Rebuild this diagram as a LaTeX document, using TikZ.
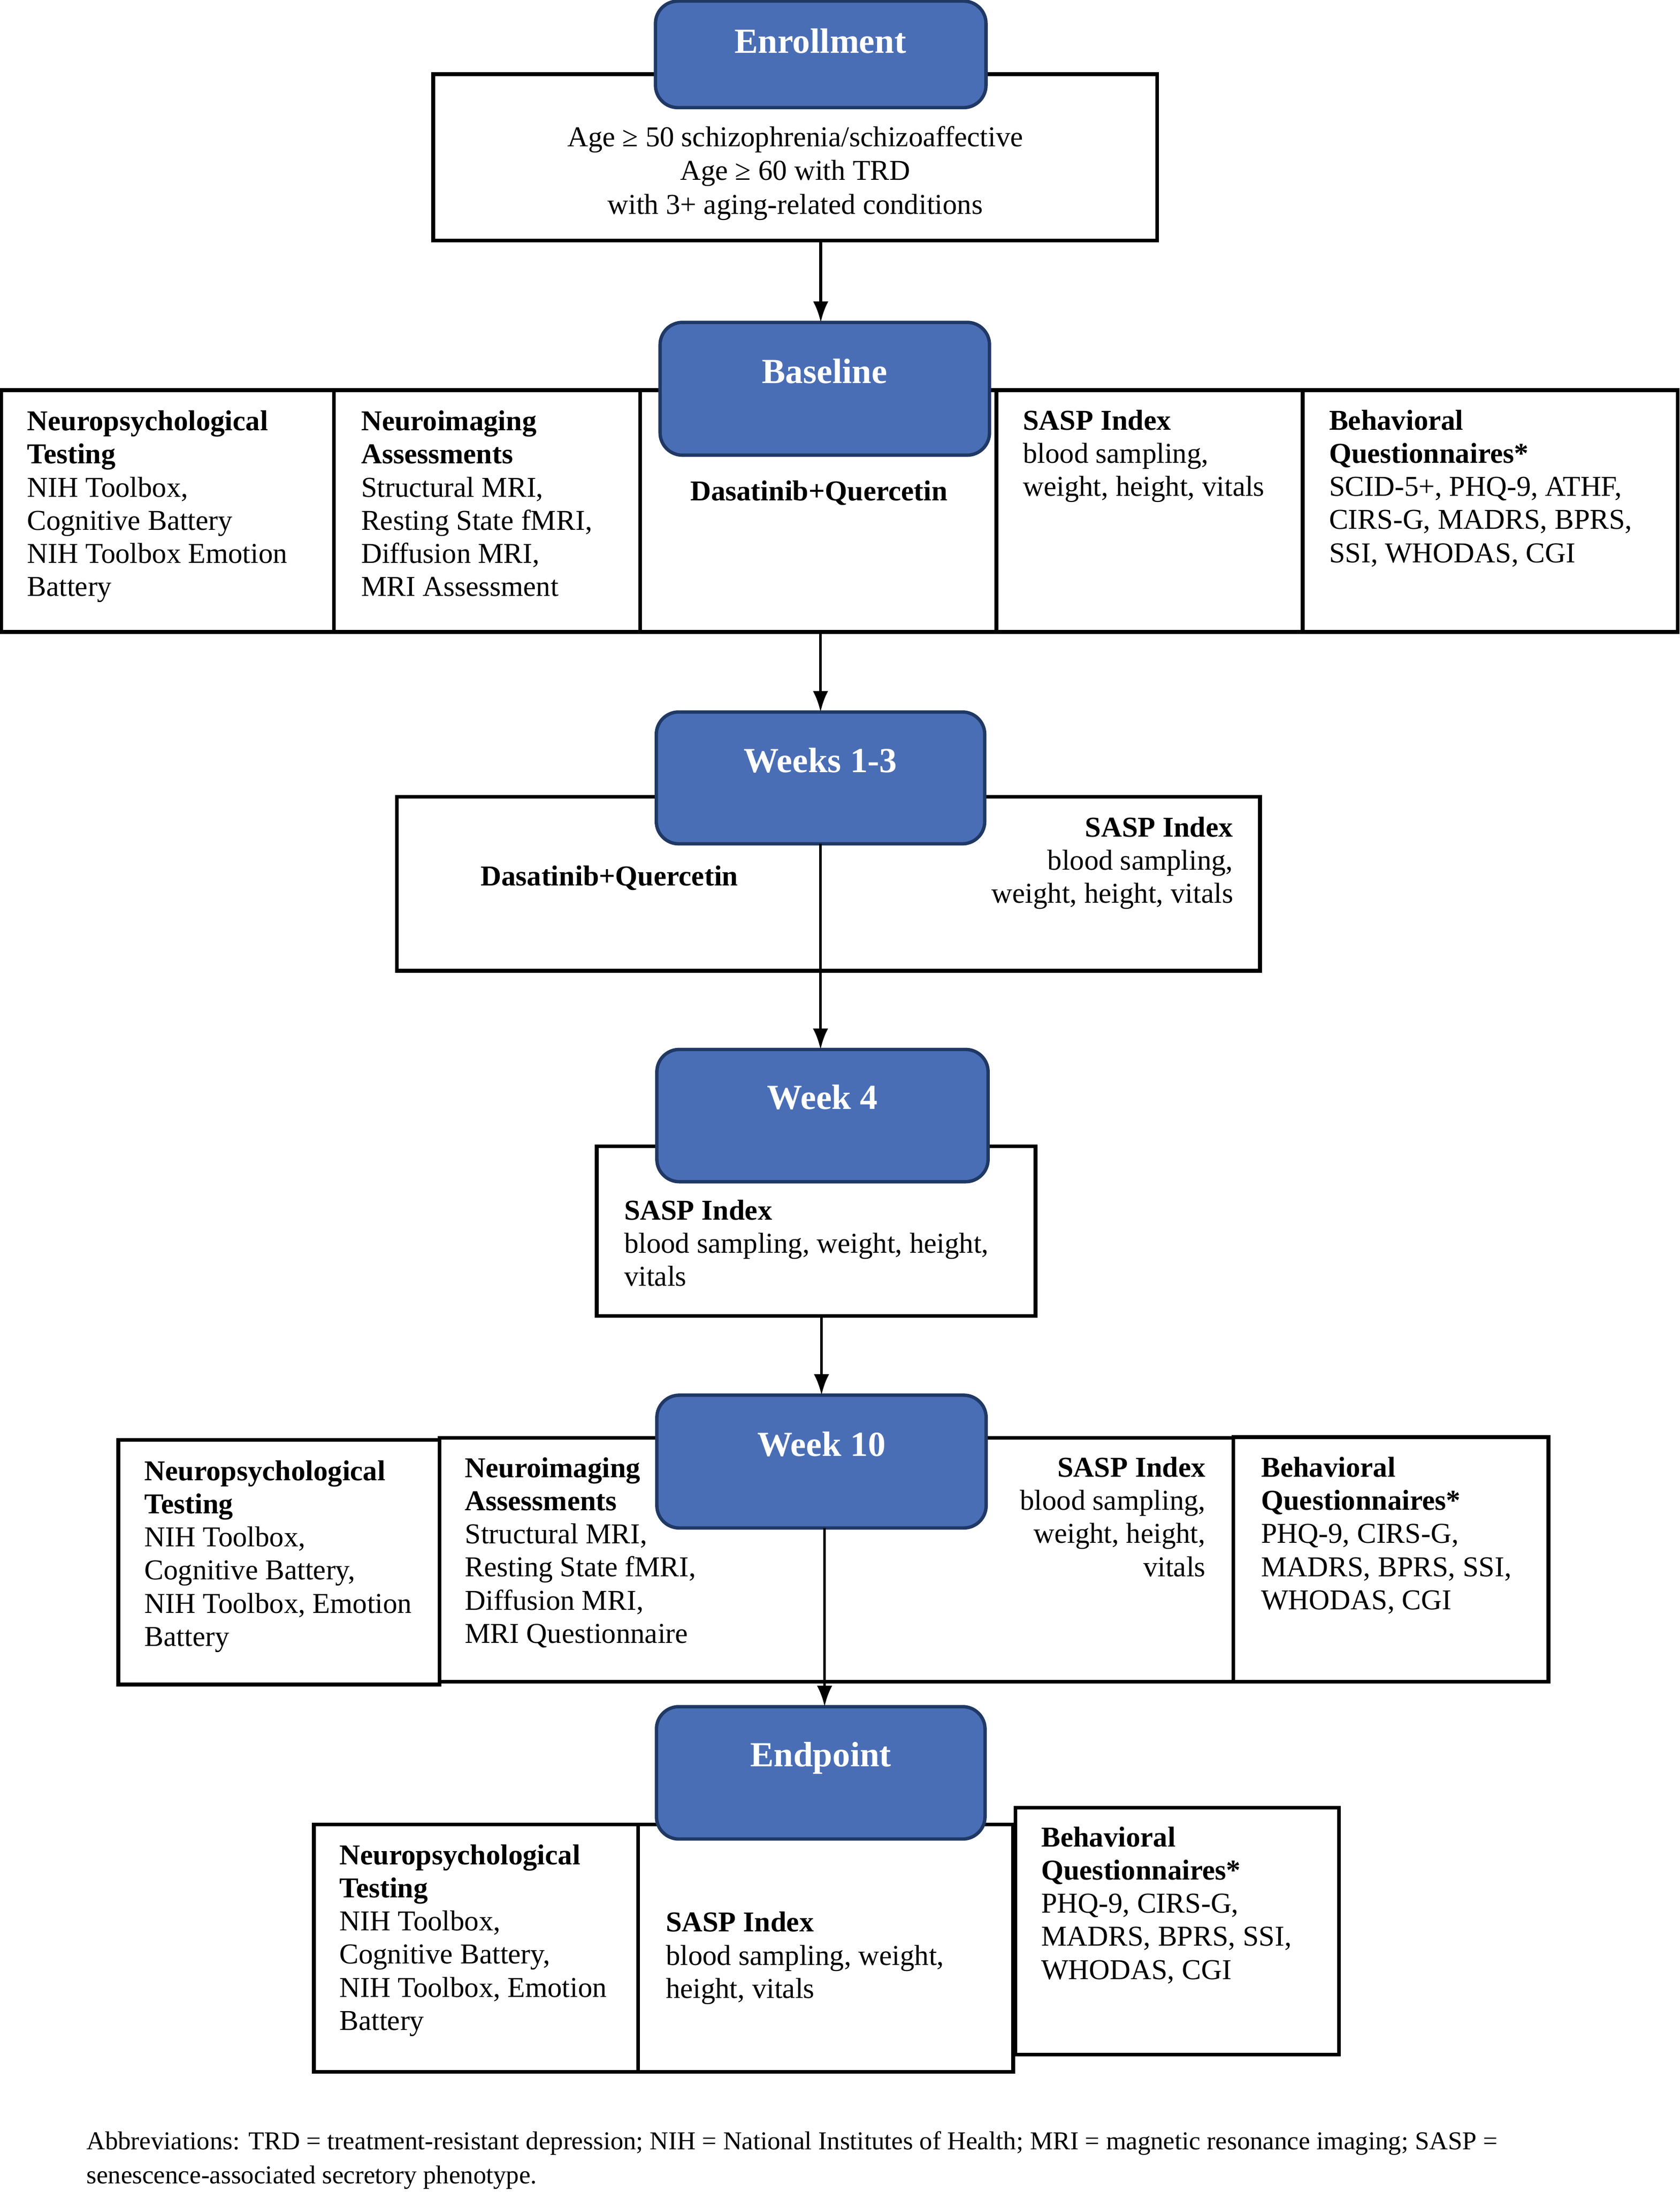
\documentclass[tikz,border=0pt]{standalone}
\usepackage{fontspec}
\setmainfont{Liberation Serif}
\usetikzlibrary{arrows.meta}
\definecolor{boxblue}{HTML}{4A6EB5}
\definecolor{boxnavy}{HTML}{1F3864}
\newcommand\Lft[1]{\vtop{\baselineskip=11.85pt\lineskiplimit=-20pt\halign{##\hfil\cr#1\crcr}}}
\newcommand\Rgt[1]{\vtop{\baselineskip=11.85pt\lineskiplimit=-20pt\halign{\hfil##\cr#1\crcr}}}
\newcommand\Ctr[1]{\vtop{\baselineskip=12.05pt\lineskiplimit=-20pt\halign{\hfil##\hfil\cr#1\crcr}}}
\newcommand\wrect[5]{\node[wbox, minimum width={(#4-#2)*0.5pt}, minimum height={(#5-#3)*0.5pt}] (#1) at (#2,#3) {};}
\newcommand\brect[5]{\node[bbox, minimum width={(#4-#2)*0.5pt}, minimum height={(#5-#3)*0.5pt}] (#1) at (#2,#3) {};}
\begin{document}
\begin{tikzpicture}[x=0.5pt,y=-0.5pt,
  wbox/.style={draw=black, line width=1.35pt, fill=white, inner sep=0pt, outer sep=0pt, anchor=north west},
  bbox/.style={draw=boxnavy, line width=1.2pt, fill=boxblue, rounded corners=8pt, inner sep=0pt, outer sep=0pt, anchor=north west},
  ttl/.style={text=white, font=\fontsize{12.6}{14}\selectfont\bfseries, inner sep=0pt, anchor=base},
  txt/.style={font=\fontsize{10.3}{11.85}\selectfont, inner sep=0pt},
  foot/.style={font=\fontsize{9.23}{12.4}\selectfont, inner sep=0pt, anchor=base west},
  arr/.style={-{Latex[length=7.5pt,width=5.5pt]}, line width=1pt}]
\useasboundingbox (0,0) rectangle (1202,1568);
\fill[white] (0,0) rectangle (1202,1568);

% Enrollment
\wrect{ewhite}{310}{53}{828}{172}
\brect{eblue}{469}{0.8}{705.5}{77}
% Baseline
\wrect{b1}{1}{279}{239}{452}
\wrect{b2}{239}{279}{458}{452}
\wrect{b3}{458}{279}{713}{452}
\wrect{b4}{713}{279}{932}{452}
\wrect{b5}{932}{279}{1200.5}{452}
\brect{bblue}{472.3}{230.6}{708}{325.6}
% Weeks 1-3
\wrect{wwhite}{284}{570}{901.5}{694.4}
\brect{wblue}{469.6}{509.3}{704.6}{603.6}
% Week 4
\wrect{fwhite}{427}{820}{741}{941.3}
\brect{fblue}{470}{750.7}{707}{845.3}
% Week 10
\wrect{c1}{84.6}{1030}{314.5}{1205}
\wrect{c2}{314.5}{1028.6}{882.5}{1203}
\wrect{c3}{882.5}{1028}{1108}{1203}
\brect{tblue}{470}{998}{705.6}{1093}
% Endpoint
\wrect{e1}{224.5}{1305}{456.6}{1482}
\wrect{e2}{456.6}{1305}{725}{1482}
\wrect{e3}{726.6}{1293}{958}{1469.7}
\brect{pblue}{469.7}{1220.8}{704.8}{1315.5}

% arrows
\draw[arr] (eblue.south |- ewhite.south) -- (eblue.south |- bblue.north);
\draw[arr] (wblue.north |- b3.south) -- (wblue.north);
\draw[arr] (wblue.south) -- (wblue.south |- fblue.north);
\draw[arr] (tblue.north |- fwhite.south) -- (tblue.north);
\draw[arr] ([xshift=1.1pt]tblue.south) -- ([xshift=1.1pt]tblue.south |- pblue.north);

% titles
\node[ttl] (tenroll) at (587,38) {Enrollment};
\node[ttl] (tbase) at (590,274) {Baseline};
\node[ttl] (tweeks) at (587,552.6) {Weeks 1-3};
\node[ttl] (tfour) at (588.5,793.6) {Week 4};
\node[ttl] (tten) at (587.8,1041.5) {Week 10};
\node[ttl] (tend) at (587.3,1263.7) {Endpoint};

% texts
\node[txt, anchor=base] (etxt) at (569,104.8) {\Ctr{Age ≥ 50 schizophrenia/schizoaffective\cr Age ≥ 60 with TRD\cr with 3+ aging-related conditions}};

\node[txt, anchor=base west] (b1t) at (19,308) {\Lft{\textbf{Neuropsychological}\cr\textbf{Testing}\cr NIH Toolbox,\cr Cognitive Battery\cr NIH Toolbox Emotion\cr Battery}};
\node[txt, anchor=base west] (b2t) at (258,308) {\Lft{\textbf{Neuroimaging}\cr\textbf{Assessments}\cr Structural MRI,\cr Resting State fMRI,\cr Diffusion MRI,\cr MRI Assessment}};
\node[txt, anchor=base] (b3t) at (586,358) {\textbf{Dasatinib+Quercetin}};
\node[txt, anchor=base west] (b4t) at (731.6,307.5) {\Lft{\textbf{SASP Index}\cr blood sampling,\cr weight, height, vitals}};
\node[txt, anchor=base west] (b5t) at (950.6,307.5) {\Lft{\textbf{Behavioral}\cr\textbf{Questionnaires*}\cr SCID-5+, PHQ-9, ATHF,\cr CIRS-G, MADRS, BPRS,\cr SSI, WHODAS, CGI}};

\node[txt, anchor=base] (wt1) at (436,633.6) {\textbf{Dasatinib+Quercetin}};
\node[txt, anchor=base east] (wt2) at (882.7,598.5) {\Rgt{\textbf{SASP Index}\cr blood sampling,\cr weight, height, vitals}};

\node[txt, anchor=base west] (ft) at (446.2,872.5) {\Lft{\textbf{SASP Index}\cr blood sampling, weight, height,\cr vitals}};

\node[txt, anchor=base west] (c1t) at (103,1059) {\Lft{\textbf{Neuropsychological}\cr\textbf{Testing}\cr NIH Toolbox,\cr Cognitive Battery,\cr NIH Toolbox, Emotion\cr Battery}};
\node[txt, anchor=base west] (c2t) at (332.3,1056.8) {\Lft{\textbf{Neuroimaging}\cr\textbf{Assessments}\cr Structural MRI,\cr Resting State fMRI,\cr Diffusion MRI,\cr MRI Questionnaire}};
\node[txt, anchor=base east] (c2s) at (863,1056.5) {\Rgt{\textbf{SASP Index}\cr blood sampling,\cr weight, height,\cr vitals}};
\node[txt, anchor=base west] (c3t) at (902,1056.5) {\Lft{\textbf{Behavioral}\cr\textbf{Questionnaires*}\cr PHQ-9, CIRS-G,\cr MADRS, BPRS, SSI,\cr WHODAS, CGI}};

\node[txt, anchor=base west] (e1t) at (242.5,1333.7) {\Lft{\textbf{Neuropsychological}\cr\textbf{Testing}\cr NIH Toolbox,\cr Cognitive Battery,\cr NIH Toolbox, Emotion\cr Battery}};
\node[txt, anchor=base west] (e2t) at (476,1381.9) {\Lft{\textbf{SASP Index}\cr blood sampling, weight,\cr height, vitals}};
\node[txt, anchor=base west] (e3t) at (744.6,1321) {\Lft{\textbf{Behavioral}\cr\textbf{Questionnaires*}\cr PHQ-9, CIRS-G,\cr MADRS, BPRS, SSI,\cr WHODAS, CGI}};

\node[foot] (fn) at (61.5,1537.5) {\vtop{\baselineskip=12.3pt\lineskiplimit=-20pt\halign{#\hfil\cr Abbreviations: TRD = treatment-resistant depression; NIH = National Institutes of Health; MRI = magnetic resonance imaging; SASP =\cr senescence-associated secretory phenotype.\crcr}}};
\end{tikzpicture}
\end{document}
